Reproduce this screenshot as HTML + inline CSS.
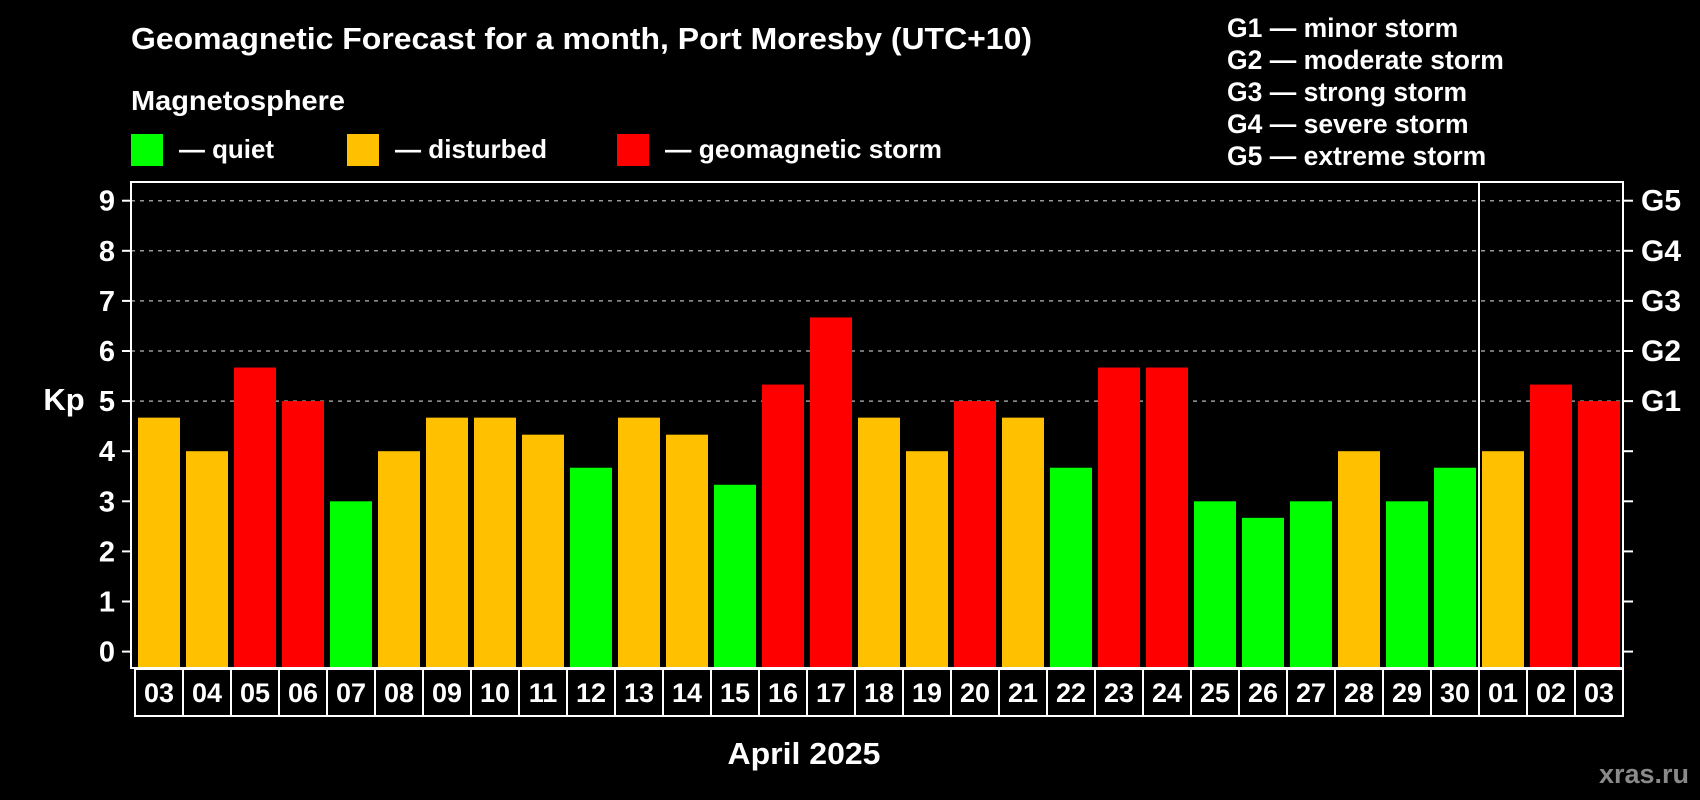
<!DOCTYPE html>
<html><head><meta charset="utf-8"><style>
html,body{margin:0;padding:0;background:#000;}
svg{display:block;font-family:"Liberation Sans",Arial,sans-serif;font-weight:bold;}
</style></head><body>
<svg id="chart" width="1700" height="800" viewBox="0 0 1700 800" xmlns="http://www.w3.org/2000/svg">
<rect x="0" y="0" width="1700" height="800" fill="#000"/>
<text x="131" y="49" fill="#fff" font-size="31" textLength="901" lengthAdjust="spacingAndGlyphs">Geomagnetic Forecast for a month, Port Moresby (UTC+10)</text>
<text x="131" y="110" fill="#fff" font-size="28" textLength="214" lengthAdjust="spacingAndGlyphs">Magnetosphere</text>
<g><rect x="131" y="134" width="32" height="32" fill="#00ff00"/><text x="179" y="158" fill="#fff" font-size="26" textLength="95" lengthAdjust="spacingAndGlyphs">— quiet</text></g>
<g><rect x="347" y="134" width="32" height="32" fill="#ffc000"/><text x="395" y="158" fill="#fff" font-size="26" textLength="152" lengthAdjust="spacingAndGlyphs">— disturbed</text></g>
<g><rect x="617" y="134" width="32" height="32" fill="#ff0000"/><text x="665" y="158" fill="#fff" font-size="26" textLength="277" lengthAdjust="spacingAndGlyphs">— geomagnetic storm</text></g>
<g fill="#fff" font-size="26.5">
<text x="1227" y="37">G1 — minor storm</text>
<text x="1227" y="69">G2 — moderate storm</text>
<text x="1227" y="101">G3 — strong storm</text>
<text x="1227" y="133">G4 — severe storm</text>
<text x="1227" y="165">G5 — extreme storm</text>
</g>
<g id="grid"></g>
<g id="bars"></g>
<rect x="131" y="182" width="1492" height="486" fill="none" stroke="#fff" stroke-width="2"/>
<line x1="1479" y1="182" x2="1479" y2="668" stroke="#fff" stroke-width="2"/>
<g id="yaxis"></g>
<g id="xaxis"></g>
<text x="64" y="410" fill="#fff" font-size="31" text-anchor="middle">Kp</text>
<text x="804" y="764" fill="#fff" font-size="31" text-anchor="middle" textLength="153" lengthAdjust="spacingAndGlyphs">April 2025</text>
<text x="1689" y="783" fill="#8a8a8a" font-size="27" text-anchor="end">xras.ru</text>
</svg>
<script>
const days = ["03","04","05","06","07","08","09","10","11","12","13","14","15","16","17","18","19","20","21","22","23","24","25","26","27","28","29","30","01","02","03"];
const kpValues = [4.67,4,5.67,5,3,4,4.67,4.67,4.33,3.67,4.67,4.33,3.33,5.33,6.67,4.67,4,5,4.67,3.67,5.67,5.67,3,2.67,3,4,3,3.67,4,5.33,5];
const levels = ["d","d","s","s","q","d","d","d","d","q","d","d","q","s","s","d","d","s","d","q","s","s","q","q","q","d","q","q","d","s","s"];
const yTicks = [0,1,2,3,4,5,6,7,8,9];
const gTicks = ["","","","","","G1","G2","G3","G4","G5"];
const gridValues = [5,6,7,8,9];

const NS="http://www.w3.org/2000/svg";
const colors={q:"#00ff00",d:"#ffc000",s:"#ff0000"};
const plotL=131, plotR=1623, plotB=668, x0=138, pitch=48, barW=42;
const y=v=>651.6-v*50.1;
const x=i=>x0+i*pitch;
function mk(tag,attrs,parent){const e=document.createElementNS(NS,tag);for(const k in attrs)e.setAttribute(k,attrs[k]);parent.appendChild(e);return e;}
const grid=document.getElementById('grid'),bars=document.getElementById('bars'),ya=document.getElementById('yaxis'),xa=document.getElementById('xaxis');
gridValues.forEach(v=>{const l=mk('line',{x1:plotL,x2:plotR,y1:y(v),y2:y(v),stroke:'#999','stroke-width':1.5,'stroke-dasharray':'4 5'},grid);

});
kpValues.forEach((v,i)=>{const r=mk('rect',{x:x(i),y:y(v),width:barW,height:plotB-y(v),fill:colors[levels[i]]},bars);

});
yTicks.forEach((t,i)=>{
 mk('line',{x1:122,x2:131,y1:y(t),y2:y(t),stroke:'#fff','stroke-width':2},ya);
 mk('line',{x1:1623,x2:1633,y1:y(t),y2:y(t),stroke:'#fff','stroke-width':2},ya);
 const tl=mk('text',{x:115,y:y(t)+10,fill:'#fff','font-size':29,'text-anchor':'end'},ya);tl.textContent=t;
 
 
 if(gTicks[i]){const g=mk('text',{x:1641,y:y(t)+10,fill:'#fff','font-size':30},ya);g.textContent=gTicks[i];
 
 }
});
mk('rect',{x:135,y:669,width:1488,height:47,fill:'none',stroke:'#fff','stroke-width':2},xa);
days.forEach((d,i)=>{
 if(i>0)mk('line',{x1:135+i*pitch,x2:135+i*pitch,y1:669,y2:716,stroke:'#fff','stroke-width':2},xa);
 const t=mk('text',{x:135+i*pitch+24,y:702,fill:'#fff','font-size':27,'text-anchor':'middle'},xa);t.textContent=d;
 
 
});
</script>
</body></html>
